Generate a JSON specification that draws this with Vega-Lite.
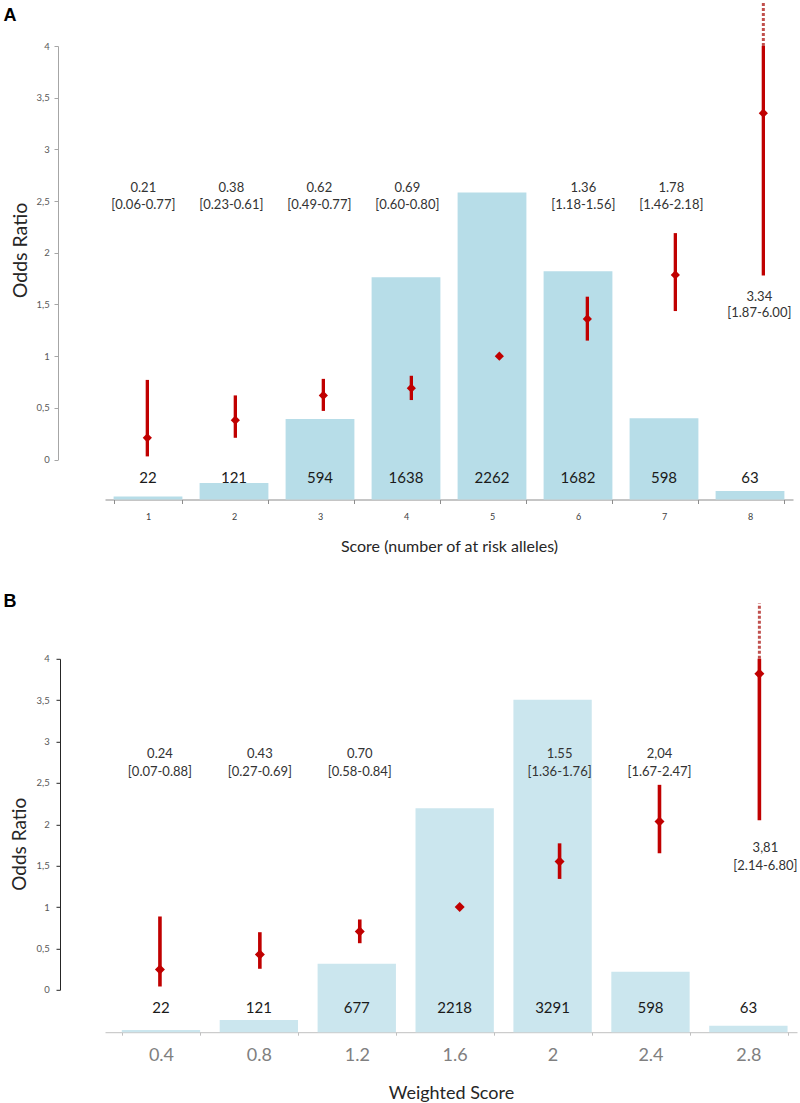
{
  "$schema": "https://vega.github.io/schema/vega-lite/v6.json",
  "padding": {"left": 3, "top": 0, "right": 0, "bottom": 0},
  "background": "white",
  "bounds": "flush",
  "spacing": 198.8,
  "config": {
    "view": {"stroke": null},
    "axis": {"grid": false, "labelFont": "Lato", "titleFont": "Lato", "titleFontWeight": "normal"},
    "text": {"font": "Lato"}
  },
  "vconcat": [
    {
      "width": 688,
      "height": 413.5,
      "data": {"values": [
        {"score": 1, "n": 22, "or": 0.21, "lo": 0.03, "hi": 0.77, "lab": "0.21\n[0.06-0.77]"},
        {"score": 2, "n": 121, "or": 0.38, "lo": 0.21, "hi": 0.62, "lab": "0.38\n[0.23-0.61]"},
        {"score": 3, "n": 594, "or": 0.62, "lo": 0.47, "hi": 0.78, "lab": "0.62\n[0.49-0.77]"},
        {"score": 4, "n": 1638, "or": 0.69, "lo": 0.575, "hi": 0.81, "lab": "0.69\n[0.60-0.80]"},
        {"score": 5, "n": 2262, "or": 1.0, "lo": null, "hi": null, "lab": ""},
        {"score": 6, "n": 1682, "or": 1.36, "lo": 1.15, "hi": 1.575, "lab": "1.36\n[1.18-1.56]"},
        {"score": 7, "n": 598, "or": 1.785, "lo": 1.436, "hi": 2.19, "lab": "1.78\n[1.46-2.18]"},
        {"score": 8, "n": 63, "or": 3.35, "lo": 1.78, "hi": 4.0, "lab": "3.34\n[1.87-6.00]"}
      ]},
      "layer": [
        {
          "mark": {"type": "bar", "color": "#b7dde8"},
          "encoding": {
            "x": {"field": "score", "type": "ordinal", "scale": {"type": "band", "paddingInner": 0.2, "paddingOuter": 0.1},
              "axis": {"title": "Score (number of at risk alleles)", "offset": 40, "tickBand": "extent", "labelAngle": 0,
                "domainColor": "#8c8c8c", "tickColor": "#8c8c8c", "tickSize": 4, "labelFontSize": 9, "labelColor": "#404040",
                "labelPadding": 8.7, "titleFontSize": 16, "titleColor": "#262626", "titlePadding": 17}},
            "y": {"field": "n", "type": "quantitative", "scale": {"domain": [294.8, 3342], "zero": false, "nice": false},
              "axis": {"orient": "left", "title": "A", "domain": false, "ticks": false, "labels": false,
                "titleAngle": 0, "titleAlign": "left", "titleBaseline": "alphabetic", "titleFont": "Liberation Sans",
                "titleFontWeight": "bold", "titleFontSize": 18, "titleColor": "#000000", "titleX": -102, "titleY": -26}},
            "y2": {"datum": 0}
          }
        },
        {
          "mark": {"type": "text", "fontSize": 15, "color": "#1a1a1a", "dy": -21.2, "baseline": "middle"},
          "encoding": {
            "x": {"field": "score", "type": "ordinal", "scale": {"type": "band", "paddingInner": 0.2, "paddingOuter": 0.1}, "axis": null},
            "y": {"datum": 0, "type": "quantitative", "scale": {"domain": [294.8, 3342], "zero": false, "nice": false}, "axis": null},
            "text": {"field": "n", "type": "nominal"}
          }
        },
        {
          "transform": [{"filter": "isValid(datum.lo)"}],
          "mark": {"type": "rule", "color": "#c00000", "strokeWidth": 3.3},
          "encoding": {
            "x": {"field": "score", "type": "quantitative", "scale": {"domain": [0.519, 8.337], "zero": false, "nice": false}, "axis": null},
            "y": {"field": "lo", "type": "quantitative", "scale": {"domain": [0, 4], "zero": false, "nice": false},
              "axis": {"title": "Odds Ratio", "orient": "left", "offset": 47, "values": [0, 0.5, 1, 1.5, 2, 2.5, 3, 3.5, 4],
                "format": "~g", "labelExpr": "replace(datum.label, '.', ',')", "domainColor": "#a6a6a6", "tickColor": "#a6a6a6",
                "tickSize": 4, "labelFontSize": 9.5, "labelColor": "#595959", "labelPadding": 4.7,
                "titleFontSize": 19.5, "titleColor": "#262626", "titlePadding": 5.4, "titleY": 204}},
            "y2": {"field": "hi"}
          }
        },
        {
          "data": {"values": [{"score": 8, "y": 4.0, "y2": 4.43}]},
          "mark": {"type": "rule", "color": "#c0504d", "strokeWidth": 3, "strokeDash": [3, 2]},
          "encoding": {
            "x": {"field": "score", "type": "quantitative", "scale": {"domain": [0.519, 8.337], "zero": false, "nice": false}, "axis": null},
            "y": {"field": "y", "type": "quantitative", "scale": {"domain": [0, 4], "zero": false, "nice": false}, "axis": null},
            "y2": {"field": "y2"}
          }
        },
        {
          "mark": {"type": "point", "shape": "diamond", "filled": true, "size": 85, "color": "#c00000", "opacity": 1},
          "encoding": {
            "x": {"field": "score", "type": "quantitative", "scale": {"domain": [0.519, 8.337], "zero": false, "nice": false}, "axis": null},
            "y": {"field": "or", "type": "quantitative", "scale": {"domain": [0, 4], "zero": false, "nice": false}, "axis": null}
          }
        },
        {
          "transform": [{"filter": "datum.score < 8 && datum.lab != ''"}],
          "mark": {"type": "text", "fontSize": 13, "color": "#333333", "lineBreak": "\n", "lineHeight": 16.7, "baseline": "middle", "dx": -4},
          "encoding": {
            "x": {"field": "score", "type": "quantitative", "scale": {"domain": [0.519, 8.337], "zero": false, "nice": false}, "axis": null},
            "y": {"datum": 2.623, "type": "quantitative", "scale": {"domain": [0, 4], "zero": false, "nice": false}, "axis": null},
            "text": {"field": "lab", "type": "nominal"}
          }
        },
        {
          "transform": [{"filter": "datum.score == 8"}],
          "mark": {"type": "text", "fontSize": 13, "color": "#333333", "lineBreak": "\n", "lineHeight": 16.7, "baseline": "middle", "dx": -4},
          "encoding": {
            "x": {"field": "score", "type": "quantitative", "scale": {"domain": [0.519, 8.337], "zero": false, "nice": false}, "axis": null},
            "y": {"datum": 1.575, "type": "quantitative", "scale": {"domain": [0, 4], "zero": false, "nice": false}, "axis": null},
            "text": {"field": "lab", "type": "nominal"}
          }
        }
      ],
      "resolve": {"scale": {"x": "independent", "y": "independent"}}
    },
    {
      "width": 692,
      "height": 331,
      "data": {"values": [
        {"score": 0.4, "n": 22, "or": 0.245, "lo": 0.04, "hi": 0.886, "lab": "0.24\n[0.07-0.88]"},
        {"score": 0.8, "n": 121, "or": 0.427, "lo": 0.254, "hi": 0.696, "lab": "0.43\n[0.27-0.69]"},
        {"score": 1.2, "n": 677, "or": 0.705, "lo": 0.563, "hi": 0.85, "lab": "0.70\n[0.58-0.84]"},
        {"score": 1.6, "n": 2218, "or": 1.0, "lo": null, "hi": null, "lab": ""},
        {"score": 2, "n": 3291, "or": 1.55, "lo": 1.34, "hi": 1.77, "lab": "1.55\n[1.36-1.76]"},
        {"score": 2.4, "n": 598, "or": 2.034, "lo": 1.65, "hi": 2.477, "lab": "2,04\n[1.67-2.47]"},
        {"score": 2.8, "n": 63, "or": 3.82, "lo": 2.05, "hi": 4.0, "lab": "3,81\n[2.14-6.80]"}
      ]},
      "layer": [
        {
          "mark": {"type": "bar", "color": "#cbe6ee"},
          "encoding": {
            "x": {"field": "score", "type": "ordinal", "scale": {"type": "band", "paddingInner": 0.2, "paddingOuter": 0.134, "align": 0.64},
              "axis": {"title": "Weighted Score", "offset": 42.4, "tickBand": "extent", "labelAngle": 0,
                "domainColor": "#c0c0c0", "tickColor": "#c0c0c0", "tickSize": 3, "labelFontSize": 18, "labelColor": "#808080",
                "labelPadding": 11, "titleFontSize": 18, "titleColor": "#262626", "titlePadding": 20}},
            "y": {"field": "n", "type": "quantitative", "scale": {"domain": [419.8, 3697], "zero": false, "nice": false},
              "axis": {"orient": "left", "title": "B", "domain": false, "ticks": false, "labels": false,
                "titleAngle": 0, "titleAlign": "left", "titleBaseline": "alphabetic", "titleFont": "Liberation Sans",
                "titleFontWeight": "bold", "titleFontSize": 18, "titleColor": "#000000", "titleX": -102, "titleY": -52.3}},
            "y2": {"datum": 0}
          }
        },
        {
          "mark": {"type": "text", "fontSize": 15, "color": "#1a1a1a", "dy": -24, "baseline": "middle"},
          "encoding": {
            "x": {"field": "score", "type": "ordinal", "scale": {"type": "band", "paddingInner": 0.2, "paddingOuter": 0.134, "align": 0.64}, "axis": null},
            "y": {"datum": 0, "type": "quantitative", "scale": {"domain": [419.8, 3697], "zero": false, "nice": false}, "axis": null},
            "text": {"field": "n", "type": "nominal"}
          }
        },
        {
          "transform": [{"filter": "isValid(datum.lo)"}],
          "mark": {"type": "rule", "color": "#c00000", "strokeWidth": 3.6},
          "encoding": {
            "x": {"field": "score", "type": "quantitative", "scale": {"domain": [0.18, 2.9506], "zero": false, "nice": false}, "axis": null},
            "y": {"field": "lo", "type": "quantitative", "scale": {"domain": [0, 4], "zero": false, "nice": false},
              "axis": {"title": "Odds Ratio", "orient": "left", "offset": 45, "values": [0, 0.5, 1, 1.5, 2, 2.5, 3, 3.5, 4],
                "format": "~g", "labelExpr": "replace(datum.label, '.', ',')", "domainColor": "#262626", "tickColor": "#262626",
                "tickSize": 4, "labelFontSize": 9.5, "labelColor": "#595959", "labelPadding": 6.7,
                "titleFontSize": 19, "titleColor": "#262626", "titlePadding": 6.9, "titleY": 185}},
            "y2": {"field": "hi"}
          }
        },
        {
          "data": {"values": [{"score": 2.8, "y": 4.0, "y2": 4.67}]},
          "mark": {"type": "rule", "color": "#c0504d", "strokeWidth": 3, "strokeDash": [3, 2]},
          "encoding": {
            "x": {"field": "score", "type": "quantitative", "scale": {"domain": [0.18, 2.9506], "zero": false, "nice": false}, "axis": null},
            "y": {"field": "y", "type": "quantitative", "scale": {"domain": [0, 4], "zero": false, "nice": false}, "axis": null},
            "y2": {"field": "y2"}
          }
        },
        {
          "mark": {"type": "point", "shape": "diamond", "filled": true, "size": 100, "color": "#c00000", "opacity": 1},
          "encoding": {
            "x": {"field": "score", "type": "quantitative", "scale": {"domain": [0.18, 2.9506], "zero": false, "nice": false}, "axis": null},
            "y": {"field": "or", "type": "quantitative", "scale": {"domain": [0, 4], "zero": false, "nice": false}, "axis": null}
          }
        },
        {
          "transform": [{"filter": "datum.score < 2.7 && datum.lab != ''"}],
          "mark": {"type": "text", "fontSize": 13, "color": "#333333", "lineBreak": "\n", "lineHeight": 18.4, "baseline": "middle"},
          "encoding": {
            "x": {"field": "score", "type": "quantitative", "scale": {"domain": [0.18, 2.9506], "zero": false, "nice": false}, "axis": null},
            "y": {"datum": 2.852, "type": "quantitative", "scale": {"domain": [0, 4], "zero": false, "nice": false}, "axis": null},
            "text": {"field": "lab", "type": "nominal"}
          }
        },
        {
          "transform": [{"filter": "datum.score > 2.7"}],
          "mark": {"type": "text", "fontSize": 13, "color": "#333333", "lineBreak": "\n", "lineHeight": 18.4, "baseline": "middle", "dx": 6},
          "encoding": {
            "x": {"field": "score", "type": "quantitative", "scale": {"domain": [0.18, 2.9506], "zero": false, "nice": false}, "axis": null},
            "y": {"datum": 1.716, "type": "quantitative", "scale": {"domain": [0, 4], "zero": false, "nice": false}, "axis": null},
            "text": {"field": "lab", "type": "nominal"}
          }
        }
      ],
      "resolve": {"scale": {"x": "independent", "y": "independent"}}
    }
  ]
}
